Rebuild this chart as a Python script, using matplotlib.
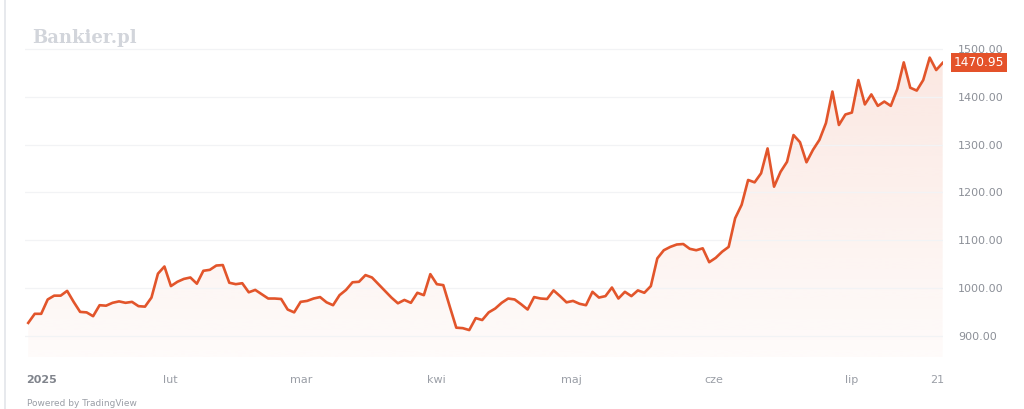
import matplotlib
matplotlib.use("Agg")
import matplotlib.pyplot as plt
import matplotlib.transforms as mtransforms
from matplotlib.patches import Polygon
import numpy as np

# ---- data ----
prices = [
    927, 946, 946, 976, 984, 984, 994, 971, 950, 949,
    941, 964, 963, 969, 972, 969, 971, 962, 961, 980,
    1030, 1045, 1004, 1013, 1019, 1022, 1009, 1036, 1038, 1047,
    1048, 1011, 1008, 1010, 991, 996, 987, 978, 978, 977,
    955, 949, 971, 973, 978, 981, 970, 964, 985, 996,
    1012, 1013, 1027, 1022, 1008, 994, 980, 968, 975, 969,
    990, 985, 1029, 1008, 1006, 961, 917, 916, 912, 937,
    933, 949, 957, 969, 978, 976, 966, 955, 981, 978,
    977, 995, 983, 970, 973, 967, 964, 992, 980, 983,
    1001, 978, 992, 983, 995, 990, 1004, 1062, 1079, 1086,
    1091, 1092, 1082, 1079, 1083, 1054, 1063, 1076, 1086, 1146,
    1174, 1226, 1221, 1240, 1292, 1212, 1243, 1264, 1320, 1305,
    1263, 1289, 1310, 1345, 1411, 1341, 1363, 1367, 1435, 1384,
    1405, 1381, 1390, 1381, 1416, 1472, 1419, 1413, 1435, 1482,
    1456, 1470.95,
]
last_price = 1470.95
y_ticks = [900, 1000, 1100, 1200, 1300, 1400, 1500]
x_labels = ["2025", "lut", "mar", "kwi", "maj", "cze", "lip", "21"]
x_label_pos = [-0.3, 21.85, 42.05, 63.0, 83.8, 105.7, 127.0, 140.1]

# ---- style ----
LINE = "#e2552b"
GRID = "#f2f3f5"
TXT = "#8c9098"

W, H = 1024, 409
fig = plt.figure(figsize=(W / 100, H / 100), dpi=100)
fig.patch.set_facecolor("white")

ax_l, ax_r, ax_t, ax_b = 25, 943, 10, 357
ax = fig.add_axes([ax_l / W, (H - ax_b) / H, (ax_r - ax_l) / W, (ax_b - ax_t) / H])
ax.set_facecolor("white")

x = np.arange(len(prices))
y = np.array(prices, dtype=float)

ymin = 1000 - (ax_b - 288) * 2.092
ymax = 1000 + (288 - ax_t) * 2.092
ax.set_ylim(ymin, ymax)
ax.set_xlim(-0.5, x[-1] + 0.05)

# gradient fill under the line
verts = [(x[0], ymin)] + list(zip(x, y)) + [(x[-1], ymin)]
poly = Polygon(verts, closed=True, facecolor="none", edgecolor="none")
ax.add_patch(poly)
grad = np.linspace(0, 1, 256).reshape(-1, 1)
base = np.array([0xe2, 0x55, 0x2b]) / 255.0
top_a, bot_a = 0.14, 0.025
img = np.zeros((256, 1, 4))
img[..., :3] = base
img[..., 3] = (bot_a + (top_a - bot_a) * grad)[:, :]
im = ax.imshow(img, extent=[x[0], x[-1], ymin, y.max()], origin="lower",
               aspect="auto", zorder=1, interpolation="bicubic")
im.set_clip_path(poly)

ax.plot(x, y, color=LINE, lw=1.9, zorder=3, solid_joinstyle="round")

# grid
ax.set_yticks(y_ticks)
ax.set_yticklabels([f"{v:.2f}" for v in y_ticks])
ax.yaxis.tick_right()
ax.tick_params(axis="y", length=0, pad=10.8, labelsize=8, labelcolor=TXT)
ax.grid(axis="y", color=GRID, lw=0.9, zorder=0)
ax.set_xticks([])
for s in ax.spines.values():
    s.set_visible(False)

# x labels
trans = mtransforms.blended_transform_factory(ax.transData, fig.transFigure)
for i, (lab, pos) in enumerate(zip(x_labels, x_label_pos)):
    if i == 0:
        ax.text(pos, (H - 380) / H, lab, transform=trans, ha="left", va="center",
                fontsize=8, color="#80848c", fontweight="bold", clip_on=False)
    else:
        ax.text(pos, (H - 380) / H, lab, transform=trans, ha="center", va="center",
                fontsize=8, color="#9a9ea6", clip_on=False)

# last price label
ptrans = mtransforms.blended_transform_factory(fig.transFigure, ax.transData)
ax.text(979 / W, last_price, f"{last_price:.2f}", transform=ptrans, ha="center",
        va="center", fontsize=8.8, color="white", clip_on=False, zorder=5,
        bbox=dict(boxstyle="square,pad=0.25", facecolor="#e4522a", edgecolor="none"))

# watermark
fig.text(32 / W, (H - 38) / H, "Bankier.pl", fontsize=13, family="DejaVu Serif",
         fontweight="bold", color="#d2d5db", ha="left", va="center")

# left border line
fig.add_artist(plt.Line2D([4.5 / W, 4.5 / W], [0, 1], color="#e3e5ea", lw=1.2))

# bottom attribution
fig.text(27 / W, 0.5 / H, "Powered by TradingView", fontsize=6.5, color="#9a9ea6",
         ha="left", va="bottom")

fig.savefig("out.png", dpi=100, facecolor="white")
